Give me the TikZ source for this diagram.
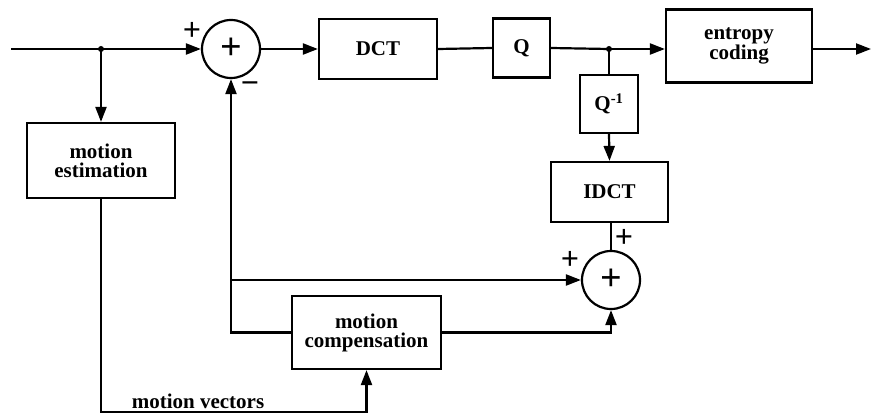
\documentclass[tikz,border=0pt]{standalone}
\usepackage{fontspec}
\setmainfont{Liberation Serif}
\usetikzlibrary{arrows.meta}
\newcommand{\blkfont}{\fontsize{21}{19}\selectfont\bfseries}
\newcommand{\sgnfont}{\fontsize{32}{32}\selectfont\bfseries}
\newcommand{\sumfont}{\fontsize{38}{38}\selectfont\bfseries}
\tikzset{
  blk/.style={draw, line width=2.2pt, align=center, font=\blkfont, inner sep=0pt},
  sumnode/.style={draw, circle, line width=2.2pt, minimum size=58pt, inner sep=0pt, font=\sumfont},
  sig/.style={line width=2.2pt, -{Triangle[length=15pt,width=11pt]}},
  ln/.style={line width=2.2pt},
  sgn/.style={font=\sgnfont, inner sep=0pt}
}
\begin{document}
\begin{tikzpicture}[x=1pt, y=-1pt]
	\useasboundingbox (0,0) rectangle (873,417);
	% blocks
	\node [blk, minimum width=118pt, minimum height=60pt] (dct) at (378,49) {DCT};
	\node [blk, minimum width=57pt, minimum height=59pt] (q) at (521.5,48) {Q};
	\node [blk, minimum width=146pt, minimum height=73pt] (ec) at (739,46) {entropy\\coding};
	\node [blk, minimum width=58pt, minimum height=58pt] (qi) at (609,104) {Q\textsuperscript{-1}};
	\node [blk, minimum width=117pt, minimum height=60pt] (idct) at (609.5,192) {IDCT};
	\node [blk, minimum width=148pt, minimum height=75pt] (me) at (101,160.5) {motion\\estimation};
	\node [blk, minimum width=149pt, minimum height=73pt] (mc) at (366.5,332.5) {motion\\compensation};
	\node [sumnode] (sa) at (231,49) {+};
	\node [sumnode] (sb) at (611,280) {+};
	% junctions
	\coordinate (in) at (11,49);
	\coordinate (jin) at (101,49);
	\coordinate (jq) at (609,49);
	\coordinate (fb) at (231,280);
	\coordinate (mvc) at (366.5,412);
	\coordinate (out) at (871,49);
	\fill (jin) circle (3pt);
	\fill (jq) circle (3pt);
	% connectors
	\draw [ln] (in) -- (jin);
	\draw [sig] (jin) -- (sa.west);
	\draw [sig] (jin) -- (me.north);
	\draw [sig] (sa.east) -- (dct.west);
	\draw [ln] (dct.east) -- (q.west);
	\draw [ln] (q.east) -- (jq);
	\draw [sig] (jq) -- (jq -| ec.west);
	\draw [sig] (ec.east |- out) -- (out);
	\draw [ln] (jq) -- (qi.north);
	\draw [sig] (qi.south) -- (idct.north);
	\draw [ln] (idct.south -| sb.north) -- (sb.north);
	\draw [sig] (fb) -- (sa.south);
	\draw [sig] (fb) -- (sb.west);
	\draw [ln] (mc.west) -| (fb);
	\draw [sig] (mc.east) -| (sb.south);
	\draw [sig] (me.south) |- (mvc) -- (mc.south);
	\node [font=\blkfont, inner sep=0pt] (mvlab) at (198,401) {motion vectors};
	% signs
	\node [sgn] (pa) at (192,31) {+};
	\node [sgn] (ma) at (250,88) {−};
	\node [sgn] (pb) at (570,260) {+};
	\node [sgn] (pc) at (624,238) {+};
\end{tikzpicture}
\end{document}
